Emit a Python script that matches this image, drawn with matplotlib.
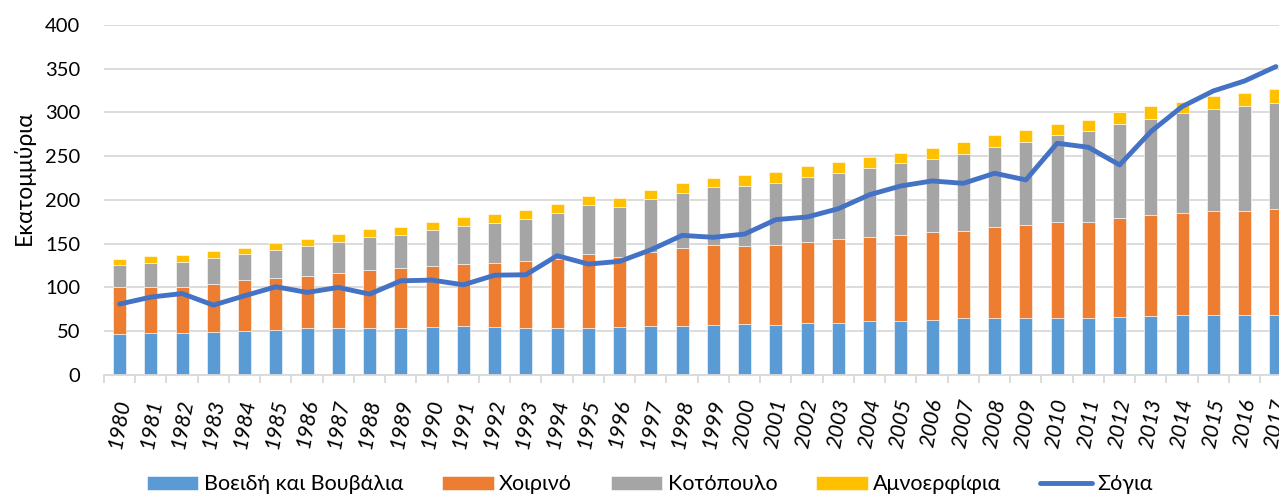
import numpy as np
import matplotlib
matplotlib.use('Agg')
from matplotlib import pyplot as plt

plt.rcParams['font.family'] = ['Lato', 'DejaVu Sans']

years = [str(y) for y in range(1980, 2018)]

# cumulative tops, converted to segment heights below
beef = [46.8, 47.5, 47.9, 49.0, 50.6, 51.3, 53.2, 53.2, 53.2, 53.6,
        55.1, 55.9, 54.6, 53.4, 53.4, 54.2, 55.0, 56.5, 56.1, 57.3,
        58.0, 57.3, 58.8, 59.5, 61.6, 61.7, 62.9, 64.8, 64.8, 64.8,
        65.5, 65.5, 66.3, 67.0, 68.2, 68.2, 68.6, 69.0]
pork_top = [100.0, 100.0, 100.8, 104.2, 108.0, 110.6, 113.3, 116.0, 120.5, 121.7,
            124.7, 127.0, 128.0, 129.8, 133.0, 138.2, 134.7, 140.5, 145.0, 148.0,
            147.3, 148.5, 152.0, 155.0, 157.6, 160.0, 163.0, 164.6, 168.8, 171.4,
            174.5, 174.9, 179.0, 182.5, 184.8, 187.0, 187.0, 189.3]
chicken_top = [125.5, 128.5, 129.3, 133.5, 138.0, 142.6, 146.8, 152.0, 158.2, 160.5,
               165.8, 170.7, 173.7, 178.6, 185.1, 193.9, 192.0, 201.1, 208.4, 214.5,
               216.4, 219.5, 226.3, 231.3, 236.4, 241.9, 246.5, 252.6, 261.0, 265.9,
               273.9, 278.5, 286.5, 293.0, 299.0, 303.6, 307.4, 311.2]
lamb_top = [132.7, 135.4, 136.9, 141.8, 145.6, 150.6, 155.1, 160.8, 167.0, 169.6,
            175.3, 180.6, 183.6, 188.9, 195.4, 204.6, 202.3, 211.5, 219.5, 225.6,
            228.2, 231.7, 238.5, 243.1, 248.8, 254.1, 259.8, 265.9, 274.3, 279.6,
            287.2, 291.8, 300.2, 307.4, 312.4, 319.2, 322.7, 326.5]
soy = [81.0, 89.0, 93.0, 79.8, 90.5, 100.8, 94.3, 100.0, 92.4, 107.6,
       108.4, 103.0, 114.0, 114.5, 136.3, 126.7, 129.8, 143.0, 159.5, 157.3,
       161.0, 177.5, 180.5, 190.0, 206.0, 216.0, 221.7, 219.0, 230.5, 222.9,
       264.8, 260.2, 240.0, 278.1, 306.7, 324.6, 336.0, 352.4]

beef = np.array(beef)
pork = np.array(pork_top) - beef
chicken = np.array(chicken_top) - np.array(pork_top)
lamb = np.array(lamb_top) - np.array(chicken_top)

fig = plt.figure(figsize=(12.79, 4.94), dpi=100)
ax = fig.add_axes([0.0813, 0.241, 0.9187, 0.7085])

x = np.arange(len(years))
w = 0.42
ec = dict(edgecolor='white', linewidth=0.4)
b1 = ax.bar(x, beef, w, color='#5B9BD5', zorder=2, **ec)
b2 = ax.bar(x, pork, w, bottom=beef, color='#ED7D31', zorder=2, **ec)
b3 = ax.bar(x, chicken, w, bottom=beef + pork, color='#A5A5A5', zorder=2, **ec)
b4 = ax.bar(x, lamb, w, bottom=beef + pork + chicken, color='#FFC000', zorder=2, **ec)
ln, = ax.plot(x, soy, color='#4472C4', lw=3.5, zorder=3, solid_capstyle='round')

ax.set_yticks(range(0, 401, 50))
ax.yaxis.grid(True, color='#D9D9D9', lw=1.3)
ax.set_axisbelow(True)
ax.tick_params(axis='y', length=0, labelsize=14.5, pad=17)

ax.set_xticks(x)
ax.set_xticklabels(years, rotation=80, fontstyle='italic', fontsize=15.5)
ax.set_xticks(np.arange(-0.5, 37, 1), minor=True)
ax.tick_params(axis='x', which='major', length=0, pad=16)
ax.tick_params(axis='x', which='minor', length=6, color='#D9D9D9', width=1.3)

ax.set_xlim(-0.5, 37.1)
ax.set_ylim(0, 400)

for s in ['top', 'right', 'left']:
    ax.spines[s].set_visible(False)
ax.spines['bottom'].set_color('#D9D9D9')
ax.spines['bottom'].set_linewidth(1.3)

ax.set_ylabel('Εκατομμύρια', fontsize=16.5)
ax.yaxis.set_label_coords(-0.0587, 0.563)

handles = [b1, b2, b3, b4, ln]
labels = ['Βοειδή και Βουβάλια', 'Χοιρινό', 'Κοτόπουλο', 'Αμνοερφίφια', 'Σόγια']
fig.legend(handles, labels, loc='lower center', bbox_to_anchor=(0.508, -0.04), ncol=5,
           frameon=False, fontsize=15.5, handlelength=2.4, handleheight=0.6,
           handletextpad=0.25, columnspacing=1.8)

fig.savefig('out.png', dpi=100)
